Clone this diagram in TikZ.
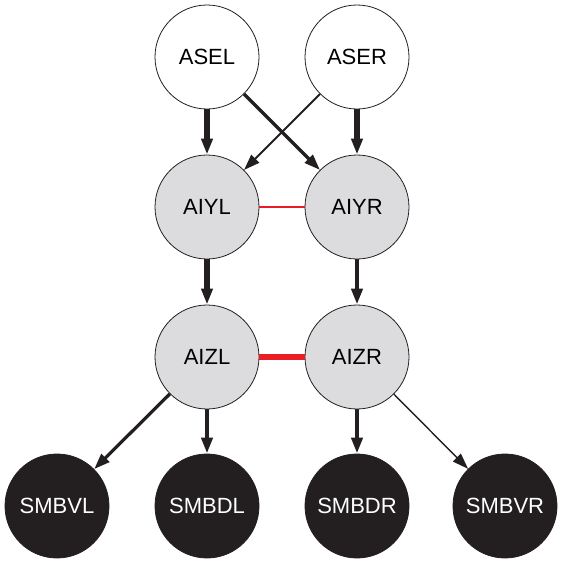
\documentclass[tikz,border=0pt]{standalone}
\usepackage{fontspec}
\setmainfont{Liberation Sans}
\usetikzlibrary{arrows.meta}
\definecolor{nodegray}{HTML}{DCDCDE}
\definecolor{linkred}{HTML}{EC1C24}
\definecolor{arrowblack}{HTML}{231F20}
\begin{document}
\begin{tikzpicture}[x=1pt,y=-1pt,
  neuron/.style={circle,draw=arrowblack,line width=0.8pt,minimum size=104pt,inner sep=0pt,font=\fontsize{22}{22}\selectfont},
  sensory/.style={neuron,fill=white},
  inter/.style={neuron,fill=nodegray},
  motor/.style={neuron,fill=arrowblack,text=white},
  syn/.style={draw=arrowblack,-{Triangle[length=16pt,width=11pt]}},
  gap/.style={draw=linkred}]
\useasboundingbox (0,0) rectangle (562,563);
\node[sensory] (asel) at (207,57) {ASEL};
\node[sensory] (aser) at (357,57) {ASER};
\node[inter] (aiyl) at (207,207) {AIYL};
\node[inter] (aiyr) at (357,207) {AIYR};
\node[inter] (aizl) at (207,357) {AIZL};
\node[inter] (aizr) at (357,357) {AIZR};
\node[motor] (smbvl) at (57,506) {SMBVL};
\node[motor] (smbdl) at (207,506) {SMBDL};
\node[motor] (smbdr) at (357,506) {SMBDR};
\node[motor] (smbvr) at (505,506) {SMBVR};
\draw[syn,line width=6pt] (asel) -- (aiyl);
\draw[syn,line width=6pt] (aser) -- (aiyr);
\draw[syn,line width=3.2pt] (asel) -- (aiyr);
\draw[syn,line width=2pt] (aser) -- (aiyl);
\draw[syn,line width=6pt] (aiyl) -- (aizl);
\draw[syn,line width=4.5pt] (aiyr) -- (aizr);
\draw[syn,line width=3.2pt] (aizl) -- (smbvl);
\draw[syn,line width=4.5pt] (aizl) -- (smbdl);
\draw[syn,line width=4.5pt] (aizr) -- (smbdr);
\draw[syn,line width=1.4pt] (aizr) -- (smbvr);
\draw[gap,line width=2.6pt] (aiyl) -- (aiyr);
\draw[gap,line width=6pt] (aizl) -- (aizr);
\end{tikzpicture}
\end{document}
